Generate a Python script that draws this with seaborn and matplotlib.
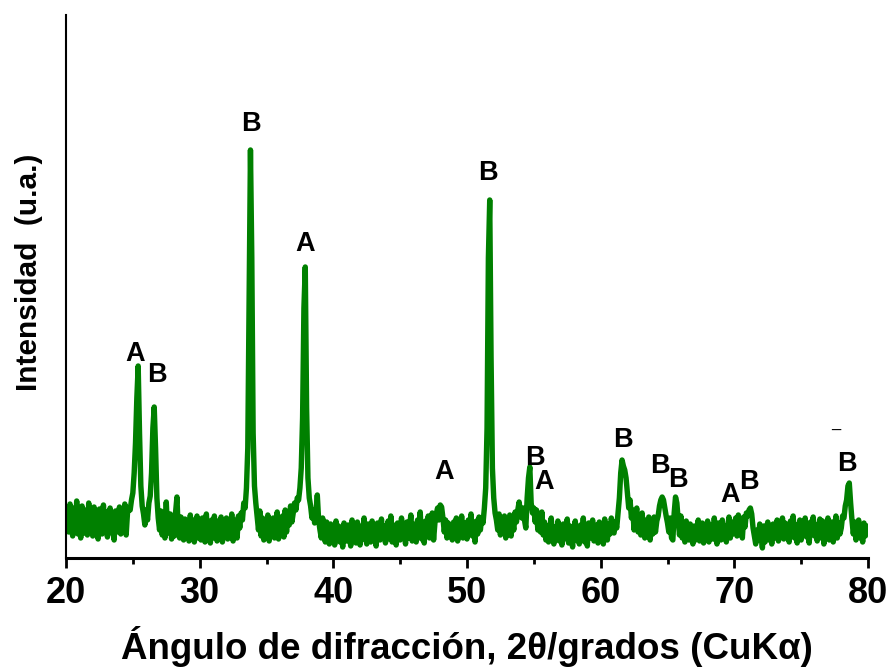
import numpy as np
import pandas as pd
import matplotlib
matplotlib.use("Agg")
import matplotlib.pyplot as plt
import seaborn as sns

# 2-theta grid (degrees), 0.1 step from 20.0 to 80.0
two_theta_start = 20.0
two_theta_step = 0.1

# Intensity (a.u.), one row per degree
intensity_rows = [
    [30, 47, 26, 54, 33, 22, 50, 28, 57, 24],   # 20
    [42, 20, 52, 31, 25, 48, 23, 55, 29, 40],   # 21
    [22, 51, 27, 44, 19, 49, 32, 24, 53, 28],   # 22
    [46, 21, 39, 50, 25, 43, 18, 47, 30, 26],   # 23
    [51, 24, 42, 29, 54, 23, 45, 50, 48, 58],   # 24
    [65, 85, 115, 160, 192, 125, 72, 52, 44, 33],  # 25
    [48, 38, 55, 62, 85, 130, 151, 110, 60, 40],   # 26
    [28, 47, 23, 40, 20, 56, 28, 25, 44, 19],   # 27
    [37, 22, 46, 61, 26, 20, 41, 28, 18, 39],   # 28
    [24, 36, 17, 43, 25, 38, 16, 32, 42, 20],   # 29
    [35, 18, 40, 26, 16, 44, 23, 33, 15, 38],   # 30
    [20, 42, 25, 17, 37, 22, 41, 16, 32, 24],   # 31
    [40, 19, 35, 23, 44, 17, 38, 26, 20, 42],   # 32
    [30, 45, 38, 55, 50, 70, 110, 260, 408, 300],  # 33
    [125, 72, 55, 42, 28, 47, 22, 40, 18, 36],  # 34
    [25, 43, 17, 35, 23, 40, 20, 32, 46, 19],   # 35
    [38, 24, 42, 21, 48, 26, 44, 33, 52, 36],   # 36
    [45, 55, 48, 60, 58, 70, 90, 140, 250, 291],   # 37
    [150, 80, 60, 52, 40, 48, 35, 45, 63, 38],  # 38
    [28, 20, 40, 24, 16, 36, 22, 14, 34, 18],   # 39
    [30, 13, 37, 20, 32, 16, 29, 11, 35, 22],   # 40
    [17, 33, 23, 12, 38, 20, 31, 15, 36, 24],   # 41
    [13, 32, 19, 40, 22, 14, 34, 25, 16, 37],   # 42
    [21, 31, 12, 35, 24, 18, 39, 20, 32, 15],   # 43
    [30, 37, 19, 42, 16, 33, 23, 13, 35, 25],   # 44
    [18, 40, 22, 32, 14, 36, 20, 31, 43, 17],   # 45
    [34, 23, 16, 38, 26, 46, 19, 32, 15, 37],   # 46
    [24, 42, 20, 33, 45, 18, 35, 44, 50, 38],   # 47
    [53, 51, 40, 26, 38, 20, 35, 23, 32, 18],   # 48
    [36, 22, 40, 17, 32, 24, 42, 20, 35, 26],   # 49
    [19, 38, 25, 44, 22, 32, 16, 37, 24, 41],   # 50
    [28, 40, 35, 50, 70, 130, 300, 358, 200, 90],  # 51
    [60, 45, 38, 28, 44, 23, 38, 26, 42, 20],   # 52
    [35, 24, 43, 22, 37, 28, 46, 36, 48, 56],   # 53
    [45, 40, 50, 38, 30, 60, 80, 91, 55, 45],   # 54
    [50, 36, 48, 28, 42, 26, 46, 23, 36, 18],   # 55
    [32, 16, 29, 40, 20, 14, 31, 22, 37, 17],   # 56
    [28, 13, 34, 19, 30, 39, 15, 32, 21, 11],   # 57
    [31, 37, 18, 28, 14, 33, 22, 40, 16, 29],   # 58
    [12, 35, 20, 30, 38, 17, 27, 33, 15, 36],   # 59
    [20, 31, 14, 39, 22, 18, 34, 24, 40, 28],   # 60
    [25, 36, 30, 45, 60, 85, 98, 92, 88, 80],   # 61
    [65, 50, 58, 40, 48, 28, 42, 50, 26, 38],   # 62
    [23, 45, 28, 20, 38, 25, 41, 18, 35, 24],   # 63
    [41, 26, 37, 42, 52, 58, 61, 58, 50, 42],   # 64
    [35, 26, 40, 20, 18, 45, 61, 55, 38, 23],   # 65
    [42, 20, 32, 16, 37, 24, 18, 34, 22, 14],   # 66
    [32, 18, 29, 38, 17, 27, 35, 15, 31, 20],   # 67
    [37, 16, 28, 33, 19, 40, 22, 14, 35, 25],   # 68
    [18, 38, 23, 32, 16, 30, 41, 20, 36, 24],   # 69
    [30, 40, 22, 43, 26, 37, 20, 41, 31, 45],   # 70
    [42, 48, 50, 44, 30, 22, 14, 28, 18, 34],   # 71
    [22, 10, 32, 16, 28, 36, 18, 30, 14, 34],   # 72
    [20, 29, 38, 17, 32, 23, 40, 19, 35, 22],   # 73
    [31, 16, 37, 24, 42, 20, 33, 15, 30, 38],   # 74
    [18, 35, 23, 40, 21, 32, 15, 36, 24, 41],   # 75
    [22, 33, 17, 30, 39, 20, 37, 14, 32, 23],   # 76
    [40, 18, 31, 36, 16, 29, 42, 20, 35, 24],   # 77
    [30, 42, 40, 52, 58, 72, 75, 55, 38, 24],   # 78
    [36, 18, 30, 38, 20, 32, 16, 35, 22, 31],   # 79
    [32],                                        # 80
]

# Phase labels: (letter, x position in 2theta, y position in intensity units)
label_letters = ["A", "B", "B", "A", "A", "B", "B", "A", "B", "B", "B", "A", "B", "B"]
label_x = [25.2, 26.8, 33.8, 37.9, 48.3, 51.6, 55.1, 55.8, 61.7, 64.4, 65.8, 69.7, 71.1, 78.4]
label_y = [204, 183, 434, 314, 86, 385, 100, 76, 118, 92, 78, 63, 76, 94]

x_ticks = [20, 30, 40, 50, 60, 70, 80]
x_minor = [25, 35, 45, 55, 65, 75]

intensity = [v for row in intensity_rows for v in row]
two_theta = two_theta_start + two_theta_step * np.arange(len(intensity))
df = pd.DataFrame({"two_theta": two_theta, "intensity": intensity})

sns.set_style("white")
plt.rcParams["font.family"] = ["Liberation Sans", "DejaVu Sans"]
plt.rcParams["text.color"] = "black"
plt.rcParams["axes.labelcolor"] = "black"
plt.rcParams["xtick.color"] = "black"
plt.rcParams["ytick.color"] = "black"

fig = plt.figure(figsize=(8.93, 6.70), dpi=100)
ax = fig.add_axes([66 / 893, (670 - 558) / 670, (868 - 66) / 893, (558 - 15) / 670])

sns.lineplot(data=df, x="two_theta", y="intensity", ax=ax, color="#008000",
             linewidth=3.9, estimator=None, sort=False)

for letter, lx, ly in zip(label_letters, label_x, label_y):
    ax.text(lx, ly, letter, ha="center", va="center", fontsize=19.5,
            fontweight="bold", color="black")
ax.text(77.6, 120, "\u00af", ha="center", va="center", fontsize=12, color="black")

ax.set_xlim(20, 80)
ax.set_ylim(0, 543)
ax.set_xticks(x_ticks)
ax.set_xticks(x_minor, minor=True)
ax.set_xticklabels([str(t) for t in x_ticks], fontsize=26, fontweight="bold",
                   color="black")
ax.set_yticks([])
ax.tick_params(axis="x", which="major", direction="out", length=7, width=2,
               color="black", labelcolor="black", pad=6, bottom=True)
ax.tick_params(axis="x", which="minor", direction="out", length=4, width=2,
               color="black", bottom=True)

for side in ["top", "right"]:
    ax.spines[side].set_visible(False)
ax.spines["bottom"].set_linewidth(2.2)
ax.spines["left"].set_linewidth(1.5)
ax.spines["bottom"].set_color("black")
ax.spines["left"].set_color("black")

ax.set_xlabel("Ángulo de difracción, 2θ/grados (CuKα)", fontsize=26.5,
              fontweight="bold", labelpad=11, color="black")
ax.set_ylabel("Intensidad  (u.a.)", fontsize=21.5, fontweight="bold", color="black")
ax.yaxis.set_label_coords(-0.029, 0.527)

fig.savefig("out.png", dpi=100)
